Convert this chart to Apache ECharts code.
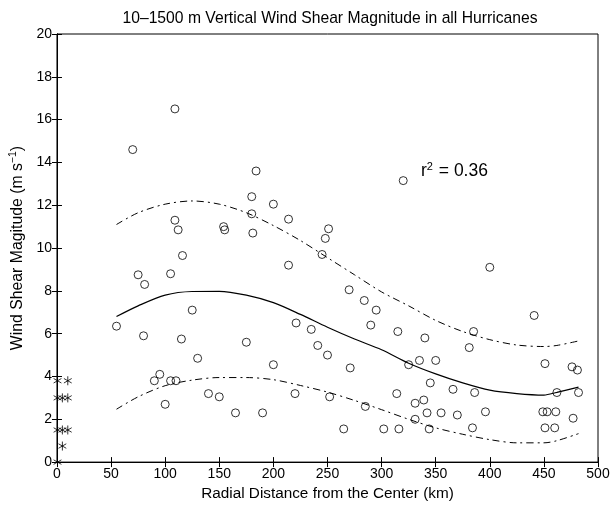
<!DOCTYPE html>
<html><head><meta charset="utf-8">
<script src="https://cdn.jsdelivr.net/npm/echarts@6/dist/echarts.min.js"></script>
<style>html,body{margin:0;padding:0;background:#fff}#c{width:613px;height:506px}</style>
</head><body><div id="c"></div>
<script>
// Observations (km, m/s) - circles
const obsKm = [109,70,184,180,200,180,109,112,154,155,181,116,75,105,
  320,214,251,248,245,214,
  81,125,55,80,115,175,130,200,95,90,105,110,140,150,100,165,190,
  270,284,295,221,235,290,315,340,241,250,325,335,350,271,345,220,252,314,339,331,285,342,355,331,265,302,316,344,
  441,385,381,451,476,481,366,386,462,482,370,396,449,453,461,477,384,451,460,400];
const obsVal = [16.5,14.6,13.6,12.4,12.05,11.6,11.3,10.85,11.0,10.85,10.7,9.65,8.75,8.8,
  13.15,11.35,10.9,10.45,9.7,9.2,
  8.3,7.1,6.35,5.9,5.75,5.6,4.85,4.55,4.1,3.8,3.8,3.8,3.2,3.05,2.7,2.3,2.3,
  8.05,7.55,7.1,6.5,6.2,6.4,6.1,5.8,5.45,5.0,4.55,4.75,4.75,4.4,3.7,3.2,3.05,3.2,2.9,2.75,2.6,2.3,2.3,2.0,1.55,1.55,1.55,1.55,
  6.85,6.1,5.35,4.6,4.45,4.3,3.4,3.25,3.25,3.25,2.2,2.35,2.35,2.35,2.35,2.05,1.6,1.6,1.6,9.1];
// Near-center observations - asterisks
const starKm = [0.5,10,0.5,5,10,0.5,5,10,5,0.5];
const starVal = [3.8,3.8,3.0,3.0,3.0,1.5,1.5,1.5,0.75,0];
// Fit curves
const fitKm = [55,75,100,125,150,175,200,225,250,275,300,325,350,375,400,425,450,462,482];
const meanVal = [6.8,7.3,7.8,7.97,7.98,7.8,7.45,6.9,6.3,5.75,5.25,4.62,4.12,3.7,3.36,3.2,3.13,3.26,3.5];
const upperVal = [11.1,11.65,12.05,12.2,12.05,11.65,11.05,10.35,9.55,8.75,7.95,7.3,6.62,6.1,5.72,5.47,5.4,5.45,5.66];
const lowerVal = [2.47,3.05,3.57,3.83,3.95,3.95,3.85,3.58,3.27,2.88,2.45,2.0,1.6,1.3,1.05,0.9,0.9,1.0,1.33];
const titleText = '10\u20131500 m Vertical Wind Shear Magnitude in all Hurricanes';
const xName = 'Radial Distance from the Center (km)';
const yName = 'Wind Shear Magitude (m s{sup|\u22121})';
const r2Text = 'r{sup|2} = 0.36';

const zip = (a,b)=>a.map((v,i)=>[v,b[i]]);
const FONT = 'Liberation Sans, Arial, Helvetica, sans-serif';
const chart = echarts.init(document.getElementById('c'), null, {renderer:'canvas'});
const tickAxis = {
  axisLine:{show:true,lineStyle:{color:'#000',width:1}},
  axisTick:{show:true,inside:true,length:5,lineStyle:{color:'#000'}},
  splitLine:{show:false}
};
const lineBase = {type:'line',symbol:'none',smooth:0.3,silent:true,xAxisIndex:0,yAxisIndex:0};
chart.setOption({
  animation:false,
  backgroundColor:'#fff',
  title:{text:titleText,left:325,textAlign:'center',top:6,
    textStyle:{fontFamily:FONT,fontSize:15.7,fontWeight:'normal',color:'#000'}},
  grid:{left:51,right:15,top:34,bottom:42,show:true,borderColor:'#000',borderWidth:1,backgroundColor:'transparent'},
  xAxis:[
    Object.assign({type:'value',min:0,max:500,interval:50,position:'bottom',
      name:xName,nameLocation:'middle',nameGap:17,
      nameTextStyle:{fontFamily:FONT,fontSize:15.3,color:'#000'},
      axisLabel:{fontFamily:FONT,fontSize:14,color:'#000',margin:5}},tickAxis),
    Object.assign({type:'value',min:0,max:500,interval:50,position:'top',axisLabel:{show:false}},tickAxis)
  ],
  yAxis:[
    Object.assign({type:'value',min:0,max:20,interval:2,position:'left',
      name:yName,nameLocation:'middle',nameGap:24,
      nameTextStyle:{fontFamily:FONT,fontSize:15.8,color:'#000',
        rich:{sup:{fontFamily:FONT,fontSize:10.5,color:'#000',verticalAlign:'top',padding:[0,0,8,0]}}},
      axisLabel:{fontFamily:FONT,fontSize:14,color:'#000',margin:5}},tickAxis),
    Object.assign({type:'value',min:0,max:20,interval:2,position:'right',axisLabel:{show:false}},tickAxis)
  ],
  graphic:[{type:'text',left:421,top:161,style:{text:r2Text,fontFamily:FONT,fontSize:17.5,fill:'#000',
    rich:{sup:{fontFamily:FONT,fontSize:11,fill:'#000',padding:[0,1,10,0]}}}}],
  series:[
    Object.assign({},lineBase,{name:'upper',data:zip(fitKm,upperVal),lineStyle:{color:'#000',width:1,type:[7,4,2,4]}}),
    Object.assign({},lineBase,{name:'mean',data:zip(fitKm,meanVal),lineStyle:{color:'#000',width:1.2}}),
    Object.assign({},lineBase,{name:'lower',data:zip(fitKm,lowerVal),lineStyle:{color:'#000',width:1,type:[7,4,2,4]}}),
    {type:'scatter',name:'obs',data:zip(obsKm,obsVal),symbol:'circle',symbolSize:8,
      itemStyle:{color:'rgba(255,255,255,0)',borderColor:'#000',borderWidth:1}},
    {type:'scatter',name:'center',data:zip(starKm,starVal),
      symbol:'path://M0,-5L0,5M-4.33,-2.5L4.33,2.5M-4.33,2.5L4.33,-2.5',symbolSize:9,symbolKeepAspect:true,
      itemStyle:{color:'none',borderColor:'#000',borderWidth:1}}
  ]
});
</script></body></html>
